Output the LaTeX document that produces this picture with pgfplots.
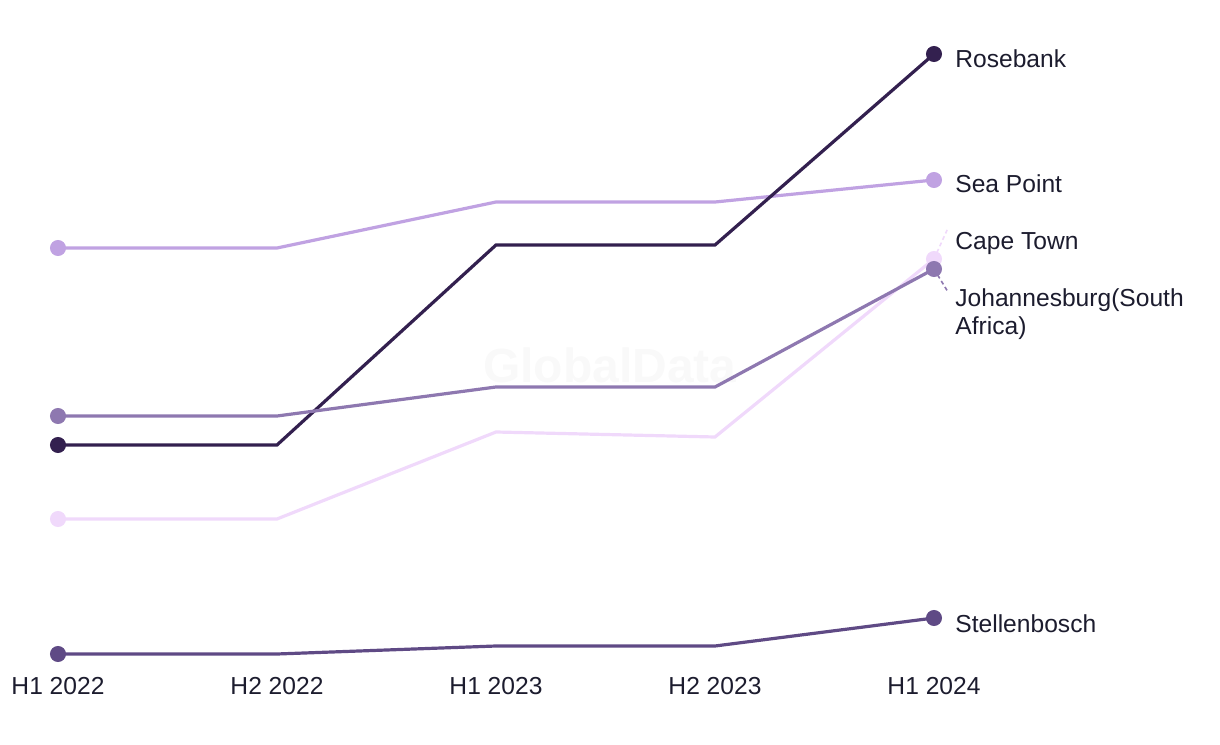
\documentclass[border=0pt]{standalone}
\usepackage{pgfplots}
\pgfplotsset{compat=1.18}
\usepackage{fontspec}
\setmainfont{Liberation Sans}

\definecolor{rosebank}{HTML}{33204F}
\definecolor{seapoint}{HTML}{C0A2E2}
\definecolor{capetown}{HTML}{F0D9FB}
\definecolor{joburg}{HTML}{8E78B0}
\definecolor{stellen}{HTML}{5F4A85}
\definecolor{txt}{HTML}{1C1C2E}

\begin{document}
\begin{tikzpicture}[font=\fontsize{12.3pt}{14.5pt}\selectfont]
\begin{axis}[
    at={(0,0)}, anchor=south west,
    scale only axis,
    width=438pt, height=300pt,
    xmin=0, xmax=4, ymin=46, ymax=646,
    enlargelimits=false,
    clip=false,
    axis line style={draw=none},
    major tick length=0pt,
    ytick=\empty,
    xtick={0,1,2,3,4},
    xticklabels={H1 2022, H2 2022, H1 2023, H2 2023, H1 2024},
    xticklabel style={anchor=base, yshift=-20pt, text=txt},
    every axis plot/.append style={line width=1.6pt, mark=*, mark size=3.2pt, mark indices={1,5}},
]
% watermark
\node[text=gray!5, font=\bfseries\fontsize{24pt}{28pt}\selectfont] at (axis cs:2.52,335) {GlobalData};

\addplot[capetown, mark options={fill=capetown, draw=capetown}] coordinates {(0,181) (1,181) (2,268) (3,263) (4,441)};
\addplot[seapoint, mark options={fill=seapoint, draw=seapoint}] coordinates {(0,452) (1,452) (2,498) (3,498) (4,520)};
\addplot[stellen, mark options={fill=stellen, draw=stellen}] coordinates {(0,46) (1,46) (2,54) (3,54) (4,82)};
\addplot[rosebank, mark options={fill=rosebank, draw=rosebank}] coordinates {(0,255) (1,255) (2,455) (3,455) (4,646)};
\addplot[joburg, mark options={fill=joburg, draw=joburg}] coordinates {(0,284) (1,284) (2,313) (3,313) (4,431)};

% leader lines
\draw[capetown, line width=0.8pt, dash pattern=on 2pt off 1.5pt] (axis cs:4,441) -- ([xshift=7pt]axis cs:4,472);
\draw[joburg, line width=0.8pt, dash pattern=on 2pt off 1.5pt] (axis cs:4,431) -- ([xshift=7pt]axis cs:4,408);

% labels
\begin{scope}[every node/.style={anchor=base west, inner sep=0pt, text=txt}]
\node at ([xshift=10.5pt]axis cs:4,632) {Rosebank};
\node at ([xshift=10.5pt]axis cs:4,507) {Sea Point};
\node at ([xshift=10.5pt]axis cs:4,450) {Cape Town};
\node at ([xshift=10.5pt]axis cs:4,393) {Johannesburg(South};
\node at ([xshift=10.5pt]axis cs:4,365) {Africa)};
\node at ([xshift=10.5pt]axis cs:4,68) {Stellenbosch};
\end{scope}
\end{axis}
\pgfresetboundingbox
\useasboundingbox (-29pt,-45pt) rectangle (581pt,327pt);
\end{tikzpicture}
\end{document}
